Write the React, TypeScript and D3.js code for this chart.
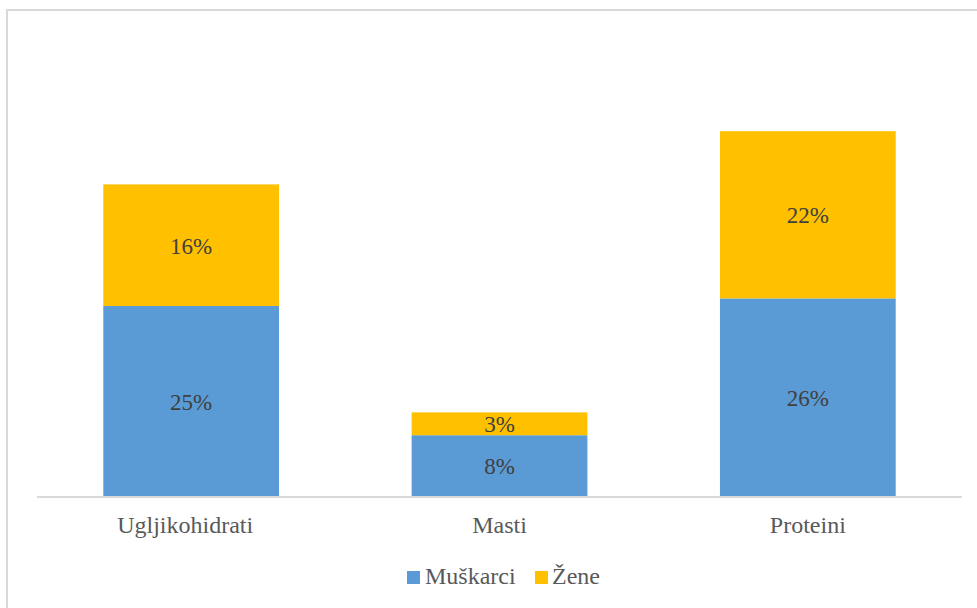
import React from "react";
import * as d3 from "d3";

const categories = ["Ugljikohidrati", "Masti", "Proteini"];
const muskarci = [25, 8, 26];
const zene = [16, 3, 22];
const seriesNames = ["Muškarci", "Žene"];
const colors = ["#5B9BD5", "#FFC000"];

const W = 977;
const H = 608;

export default function App() {
  const x = d3.scaleBand<string>().domain(categories).range([37, 962]).paddingInner(0.43).paddingOuter(0.215);
  const y = d3.scaleLinear().domain([0, 50]).range([496, 116]);
  const rows = categories.map((c, i) => ({ cat: c, "Muškarci": muskarci[i], "Žene": zene[i] }));
  const stacked = d3.stack<any>().keys(seriesNames)(rows);
  const font = "Liberation Serif, DejaVu Serif, serif";

  return (
    <svg width={W} height={H} style={{ position: "absolute", left: 0, top: 0, background: "#fff", fontFamily: font }}>
      <rect x={7} y={10} width={W + 10} height={H + 10} fill="#fff" stroke="#d9d9d9" strokeWidth={2} />
      {stacked.map((s, si) => (
        <g key={s.key}>
          {s.map((d, i) => {
            const x0 = x(categories[i])!;
            const yTop = y(d[1]);
            const yBot = y(d[0]);
            return (
              <g key={i}>
                <rect x={x0} y={yTop} width={x.bandwidth()} height={yBot - yTop} fill={colors[si]} />
                <text x={x0 + x.bandwidth() / 2} y={(yTop + yBot) / 2} dy="0.37em" textAnchor="middle" fontSize={23} fill="#404040" style={{ fontFamily: font }}>
                  {(d[1] - d[0]) + "%"}
                </text>
              </g>
            );
          })}
        </g>
      ))}
      <line x1={37} x2={962} y1={497} y2={497} stroke="#d9d9d9" strokeWidth={2} />
      {categories.map((c, i) => (
        <text key={c} x={x(c)! + x.bandwidth() / 2 - (i === 0 ? 6 : 0)} y={533} textAnchor="middle" fontSize={24} fill="#595959" style={{ fontFamily: font }}>{c}</text>
      ))}
      <g>
        <rect x={407} y={571} width={13} height={13} fill={colors[0]} />
        <text x={425} y={584} fontSize={24} fill="#595959" style={{ fontFamily: font }}>{seriesNames[0]}</text>
        <rect x={535} y={571} width={13} height={13} fill={colors[1]} />
        <text x={552} y={584} fontSize={24} fill="#595959" style={{ fontFamily: font }}>{seriesNames[1]}</text>
      </g>
    </svg>
  );
}
